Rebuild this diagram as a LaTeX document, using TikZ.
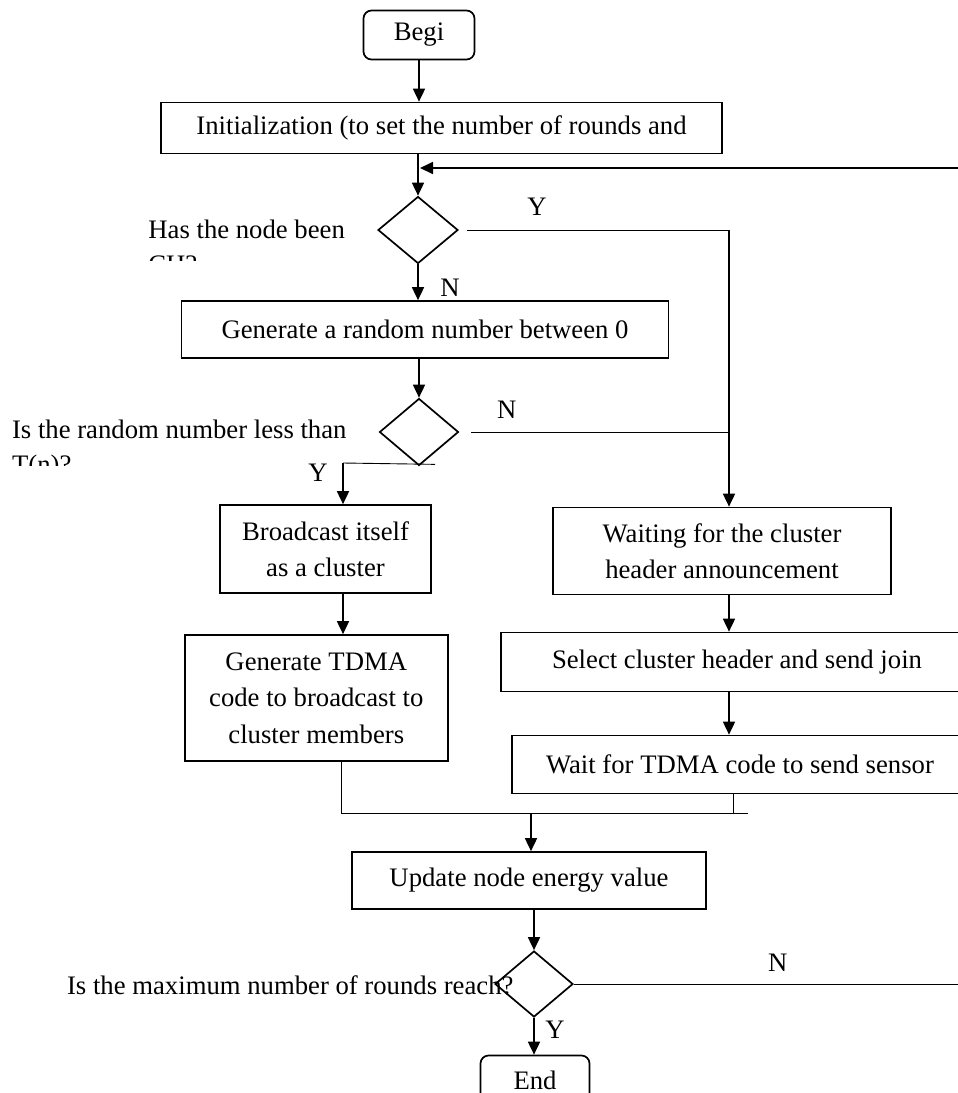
\documentclass[tikz,border=0pt]{standalone}
\usepackage{fontspec}
\setmainfont{Liberation Serif}
\usetikzlibrary{shapes.geometric,arrows.meta}
\tikzset{
  box/.style={draw, line width=0.85pt, inner sep=0pt, align=center},
  term/.style={box, rounded corners=4pt},
  decision/.style={draw, diamond, line width=0.85pt, inner sep=0pt},
  arr/.style={line width=0.85pt, -{Triangle[length=6.5pt,width=6pt]}},
  thinln/.style={line width=0.45pt},
  question/.style={inner sep=0pt, align=left, anchor=north west, font=\fontsize{13.35pt}{17.3pt}\selectfont},
  yn/.style={inner sep=0pt}
}
\begin{document}
\begin{tikzpicture}[x=0.5pt, y=-0.5pt, font=\fontsize{13.35pt}{18.2pt}\selectfont]
\path[use as bounding box, clip] (0,0) rectangle (958,1093);
\node[term, minimum width=55.5pt, minimum height=24.5pt] (begin) at (419,35) {Begi};
\node[box, minimum width=280.5pt, minimum height=25.5pt] (init) at (441.5,128) {Initialization (to set the number of rounds and};
\node[decision, minimum width=40pt, minimum height=33.5pt] (dec1) at (418,230) {};
\begin{scope}
\clip (0,0) rectangle (400,260);
\node[question] (q1) at (148,220) {Has the node been\\CH?};
\end{scope}
\node[box, minimum width=243.5pt, minimum height=28.5pt] (gen) at (425,329.5) {Generate a random number between 0};
\node[decision, minimum width=39.5pt, minimum height=33.5pt] (dec2) at (419,432) {};
\begin{scope}
\clip (0,300) rectangle (400,465);
\node[question] (q2) at (11.7,420) {Is the random number less than\\T(n)?};
\end{scope}
\node[box, minimum width=105.5pt, minimum height=44pt] (bcast) at (325.5,549) {Broadcast itself\\as a cluster};
\node[box, minimum width=131.5pt, minimum height=63pt] (tdma) at (316.3,698) {Generate TDMA\\code to broadcast to\\cluster members};
\node[box, minimum width=169pt, minimum height=43.5pt] (wait) at (722,551) {Waiting for the cluster\\header announcement};
\node[box, minimum width=236pt, minimum height=29.5pt] (select) at (737,662) {Select cluster header and send join};
\node[box, minimum width=228pt, minimum height=29pt] (waitsend) at (740,764.5) {Wait for TDMA code to send sensor};
\node[box, minimum width=177pt, minimum height=28.5pt] (update) at (529,880.5) {Update node energy value};
\node[decision, minimum width=39pt, minimum height=33pt] (dec3) at (534,984) {};
\node[question] (q3) at (66.7,975) {Is the maximum number of rounds reach?};
\node[term, minimum width=54.5pt, minimum height=24.5pt] (end) at (535,1080) {End};
\coordinate (loopin) at (420,168);
\coordinate (loopout) at (990,984);
\coordinate (ycorner) at (729,230);
\coordinate (ycorner2) at (343,463);
\coordinate (mleft) at (341,813);
\coordinate (mright) at (748,813);
\coordinate (mcol) at (733,813);
\coordinate (mjoin) at (531,813);
\draw[arr] (begin.south) -- (begin.south |- init.north);
\draw[arr] (init.south -| dec1) -- (dec1.north);
\draw[arr] (dec1.south) -- (dec1.south |- gen.north);
\node[yn] (n1) at (450,288) {N};
\draw[thinln] ([xshift=4pt]dec1.east) -- (ycorner);
\node[yn] (y1) at (537,207) {Y};
\draw[arr] (ycorner) -- (wait.north -| ycorner);
\draw[arr] (gen.south -| dec2) -- (dec2.north);
\draw[thinln] ([xshift=6pt]dec2.east) -- (dec2.east -| ycorner);
\node[yn] (n2) at (506.7,410) {N};
\draw[thinln] ([shift={(16,-2)}]dec2.south) -- (ycorner2);
\node[yn] (y2) at (318,473) {Y};
\draw[arr] (ycorner2) -- (bcast.north -| ycorner2);
\draw[arr] (bcast.south -| ycorner2) -- (tdma.north -| ycorner2);
\draw[arr] (wait.south -| ycorner) -- (select.north -| ycorner);
\draw[arr] (select.south -| ycorner) -- (waitsend.north -| ycorner);
\draw[thinln] (tdma.south -| mleft) -- (mleft) -- (mright);
\draw[thinln] (waitsend.south -| mcol) -- (mcol);
\draw[arr] (mjoin) -- (update.north -| mjoin);
\draw[arr] (update.south -| dec3) -- (dec3.north);
\draw[thinln] (dec3.east) -- (loopout);
\node[yn] (n3) at (777.7,963) {N};
\draw[arr] (loopout) |- (loopin);
\draw[arr] (dec3.south) -- (end.north -| dec3);
\node[yn] (y3) at (555,1030) {Y};
\end{tikzpicture}
\end{document}
